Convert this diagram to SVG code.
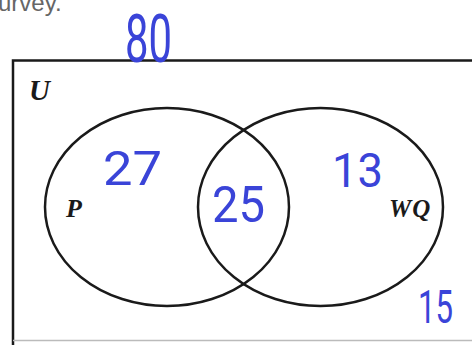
<svg xmlns="http://www.w3.org/2000/svg" width="472" height="345" viewBox="0 0 472 345">
<style>
.set{fill:none;stroke:#1a1a1a;stroke-width:2.5}
.lbl{font-family:"Liberation Serif",serif;font-weight:bold;font-style:italic;fill:#1a1a1a}
.hw{font-family:Roboto,"Liberation Sans",sans-serif;font-weight:400;fill:#3a44d8}
</style>
<rect width="472" height="345" fill="#ffffff"/>
<text x="-2" y="11" font-family="Liberation Sans, sans-serif" font-size="24" fill="#666">urvey.</text>
<g id="universe">
<path d="M13,345 V60.5 H472" class="set"/>
<path d="M13,340.5 H472" fill="none" stroke="#bbb" stroke-width="1.5"/>
<text x="29" y="100" class="lbl" font-size="29">U</text>
</g>
<g id="setP">
<ellipse cx="167" cy="207" rx="122" ry="99" class="set"/>
<text x="66" y="217" class="lbl" font-size="26">P</text>
</g>
<g id="setWQ">
<ellipse cx="320.5" cy="207" rx="122.5" ry="99" class="set"/>
<text x="389" y="217" class="lbl" font-size="25" letter-spacing="1">WQ</text>
</g>
<g id="values">
<text x="125" y="62" class="hw" font-size="66" textLength="47" lengthAdjust="spacingAndGlyphs">80</text>
<text x="103" y="185" class="hw" font-size="48" textLength="59" lengthAdjust="spacingAndGlyphs">27</text>
<text x="212" y="222" class="hw" font-size="50" textLength="53" lengthAdjust="spacingAndGlyphs">25</text>
<text x="332" y="187" class="hw" font-size="48" textLength="51" lengthAdjust="spacingAndGlyphs">13</text>
<text x="418" y="323" class="hw" font-size="46" textLength="35" lengthAdjust="spacingAndGlyphs">15</text>
</g>
</svg>
